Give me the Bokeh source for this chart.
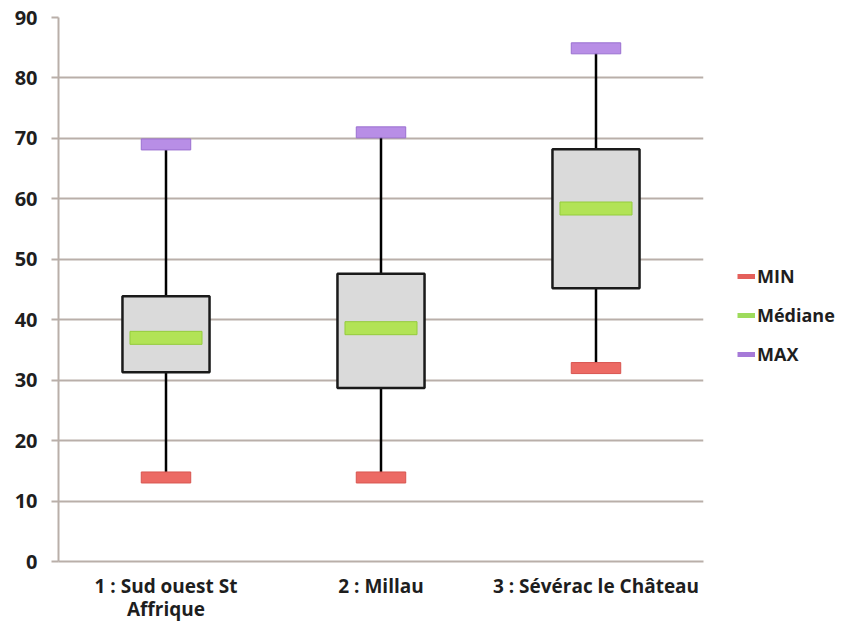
from bokeh.plotting import figure
from bokeh.layouts import row
from bokeh.models import Range1d, FactorRange, Legend, LegendItem, ColumnDataSource, SingleIntervalTicker
from bokeh.embed import file_html
from bokeh.resources import INLINE

categories = ["1 : Sud ouest St\nAffrique", "2 : Millau", "3 : Sévérac le Château"]
q1 = [31.3, 28.7, 45.2]
q3 = [43.9, 47.6, 68.2]
mins = [13.9, 13.9, 32.0]
medians = [37.0, 38.6, 58.4]
maxs = [69.0, 71.0, 84.9]
series_names = ["MIN", "Médiane", "MAX"]

FONT = "Open Sans"
GRID = "#b9afa9"
H = 624

p = figure(width=705, height=H, output_backend="svg", toolbar_location=None,
           x_range=FactorRange(*categories, range_padding=0), y_range=Range1d(0, 90),
           min_border_left=58, min_border_right=2, min_border_top=17, min_border_bottom=60)
p.outline_line_color = None
p.background_fill_color = "white"
p.border_fill_color = "white"

# grid
p.xgrid.grid_line_color = None
p.ygrid.grid_line_color = GRID
p.ygrid.grid_line_width = 2
p.yaxis.ticker = SingleIntervalTicker(interval=10)

for ax in (p.xaxis, p.yaxis):
    ax.axis_line_color = GRID
    ax.axis_line_width = 2
    ax.major_label_text_font = FONT
    ax.major_label_text_font_style = "bold"
    ax.major_label_text_color = "#1e1e1e"
    ax.minor_tick_line_color = None

p.yaxis.major_label_text_font_size = "20px"
p.xaxis.major_label_text_font_size = "19px"
p.yaxis.major_tick_line_color = GRID
p.yaxis.major_tick_line_width = 2
p.yaxis.major_tick_in = 0
p.yaxis.major_tick_out = 7
p.yaxis.major_label_standoff = 14
p.xaxis.major_tick_line_color = None
p.xaxis.major_tick_in = 0
p.xaxis.major_tick_out = 0
p.xaxis.major_label_standoff = 11
p.xaxis.major_label_text_line_height = 0.9

src = ColumnDataSource(dict(cat=categories, q1=q1, q3=q3, mins=mins, medians=medians, maxs=maxs))

# whiskers
p.segment(x0="cat", y0="q3", x1="cat", y1="maxs", source=src, line_color="black", line_width=2.5)
p.segment(x0="cat", y0="q1", x1="cat", y1="mins", source=src, line_color="black", line_width=2.5)
# boxes
p.vbar(x="cat", bottom="q1", top="q3", width=0.405, source=src,
       fill_color="#dadada", line_color="#1a1a1a", line_width=2.5)
# markers
p.rect(x="cat", y="mins", width=0.23, height=11, height_units="screen", source=src,
       fill_color="#ec6a64", line_color="#d85550", line_width=1)
p.rect(x="cat", y="medians", width=0.335, height=13, height_units="screen", source=src,
       fill_color="#b2e356", line_color="#94cc3c", line_width=1)
p.rect(x="cat", y="maxs", width=0.23, height=11, height_units="screen", source=src,
       fill_color="#b88ee6", line_color="#9a70d0", line_width=1)

# legend in a separate, axis-less figure to the right
q = figure(width=133, height=H, output_backend="svg", toolbar_location=None,
           x_range=Range1d(0, 1), y_range=Range1d(0, 1),
           x_axis_type=None, y_axis_type=None, min_border=0)
q.outline_line_color = None
q.grid.grid_line_color = None
q.border_fill_color = "white"

leg_colors = ["#e4605b", "#9edb5c", "#a67ad8"]
items = []
for name, c in zip(series_names, leg_colors):
    r = q.line(x=[0, 1], y=[-5, -5], line_color=c, line_width=5)
    items.append(LegendItem(label=name, renderers=[r]))

legend = Legend(items=items, location=(32, 195), orientation="vertical",
                glyph_width=18, glyph_height=20, label_height=20, spacing=15,
                label_standoff=2, padding=0, margin=0,
                border_line_color=None, background_fill_alpha=0,
                label_text_font=FONT, label_text_font_style="bold",
                label_text_font_size="18px", label_text_color="#1e1e1e")
q.add_layout(legend)

layout = row(p, q, spacing=0)
open("out.html", "w").write(file_html(layout, INLINE))
